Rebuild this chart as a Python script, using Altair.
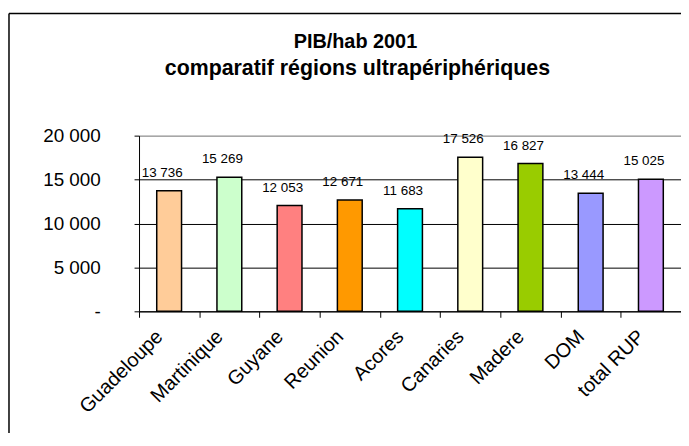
import altair as alt
import pandas as pd

categories = ["Guadeloupe", "Martinique", "Guyane", "Reunion", "Acores",
              "Canaries", "Madere", "DOM", "total RUP"]
values = [13736, 15269, 12053, 12671, 11683, 17526, 16827, 13444, 15025]
colors = ["#FFCC99", "#CCFFCC", "#FF8080", "#FF9900", "#00FFFF",
          "#FFFFCC", "#99CC00", "#9999FF", "#CC99FF"]
title_line1 = "PIB/hab 2001"
title_line2 = "comparatif régions ultrapériphériques"
y_ticks = [0, 5000, 10000, 15000, 20000]

FONT = "Liberation Sans"
W, H = 546, 177

df = pd.DataFrame({
    "cat": categories,
    "val": values,
    "label": [f"{v:,}".replace(",", " ") for v in values],
})
one = pd.DataFrame({"k": [0]})

x_enc = alt.X(
    "cat:N", sort=categories, title=None,
    scale=alt.Scale(paddingInner=0, paddingOuter=0),
    axis=alt.Axis(
        labelAngle=-45, labelAlign="right", labelBaseline="middle",
        labelFontSize=20, labelFont=FONT, labelColor="black",
        labelPadding=16, labelOffset=-10,
        tickBand="extent", tickSize=6, tickColor="black",
        domainColor="black", grid=False,
    ),
)
y_enc = alt.Y(
    "val:Q", title=None,
    scale=alt.Scale(domain=[0, 20000], nice=False),
    axis=alt.Axis(
        values=y_ticks,
        labelExpr="datum.value == 0 ? '-\u00a0\u00a0\u00a0\u00a0' : replace(format(datum.value, ','), ',', ' ')",
        labelFontSize=19, labelFont=FONT, labelColor="black",
        labelPadding=34, tickSize=5, tickColor="black",
        domainColor="black",
        grid=True,
        gridColor=alt.condition("datum.value >= 20000", alt.value("#808080"), alt.value("black")),
        gridWidth=1,
    ),
)

bars = alt.Chart(df).mark_bar(width=25, stroke="black", strokeWidth=1.5).encode(
    x=x_enc,
    y=y_enc,
    color=alt.Color("cat:N", scale=alt.Scale(domain=categories, range=colors), legend=None),
)

labels = alt.Chart(df).mark_text(
    baseline="alphabetic", align="center", dx=-7, dy=-14,
    fontSize=13.5, font=FONT, color="black",
).encode(
    x=alt.X("cat:N", sort=categories),
    y=alt.Y("val:Q"),
    text="label:N",
)

title1 = alt.Chart(one).mark_text(
    fontSize=20, fontWeight="bold", font=FONT, color="black",
    align="center", baseline="alphabetic",
).encode(
    x=alt.value(218), y=alt.value(-88), text=alt.value(title_line1),
)
title2 = alt.Chart(one).mark_text(
    fontSize=21.5, fontWeight="bold", font=FONT, color="black",
    align="center", baseline="alphabetic",
).encode(
    x=alt.value(220), y=alt.value(-61.5), text=alt.value(title_line2),
)

frame_left = alt.Chart(one).mark_rule(color="black", strokeWidth=1.5).encode(
    x=alt.value(-131), y=alt.value(-123), y2=alt.value(400),
)
frame_top = alt.Chart(one).mark_rule(color="black", strokeWidth=1.5).encode(
    x=alt.value(-131), x2=alt.value(700), y=alt.value(-123),
)

chart = alt.layer(frame_left, frame_top, bars, labels, title1, title2).properties(
    width=W, height=H,
    autosize=alt.AutoSizeParams(type="none"),
    padding={"left": 132, "top": 127, "right": 0, "bottom": 121},
    background="white",
).configure_view(
    fill="#C0C0C0", stroke="#808080", strokeWidth=1,
).configure(font=FONT)

chart.save("out.html", embed_options={"renderer": "svg", "actions": False})
